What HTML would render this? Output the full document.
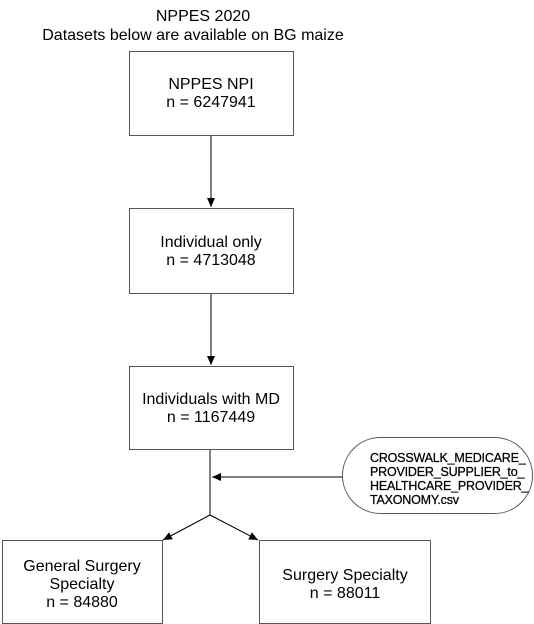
<!DOCTYPE html>
<html><head><meta charset="utf-8"><style>
html,body{margin:0;padding:0;background:#fff;}
svg{display:block;font-family:"Liberation Sans",Arial,sans-serif;}
</style></head><body>
<svg width="534" height="624" viewBox="0 0 534 624" xmlns="http://www.w3.org/2000/svg">
<defs><marker id="a" markerWidth="10" markerHeight="10" refX="9" refY="5" orient="auto" markerUnits="userSpaceOnUse"><path d="M0,1 L9,5 L0,9 Z" fill="#000"/></marker></defs>
<g font-size="16" text-anchor="middle" fill="#000">
<text x="203" y="21">NPPES 2020</text>
<text x="193" y="40">Datasets below are available on BG maize</text>
</g>
<g fill="#fff" stroke="#555" stroke-width="1">
<rect x="129.5" y="51.5" width="164" height="84"/>
<rect x="129.5" y="208.5" width="164" height="85"/>
<rect x="129.5" y="366.5" width="164" height="83"/>
<rect x="2.5" y="540.5" width="160" height="83"/>
<rect x="259.5" y="540.5" width="171" height="83"/>
<rect x="342.5" y="437.5" width="190" height="76" rx="38" ry="38"/>
</g>
<g stroke="#000" stroke-width="1" fill="none">
<line x1="211" y1="136" x2="211" y2="207" marker-end="url(#a)"/>
<line x1="211" y1="294" x2="211" y2="365" marker-end="url(#a)"/>
<line x1="210" y1="450" x2="210" y2="515"/>
<line x1="342" y1="477" x2="212" y2="477" marker-end="url(#a)"/>
<line x1="210" y1="515" x2="163" y2="540" marker-end="url(#a)"/>
<line x1="210" y1="515" x2="258" y2="540" marker-end="url(#a)"/>
</g>
<g font-size="16" text-anchor="middle" fill="#000">
<text x="211" y="89">NPPES NPI</text>
<text x="211" y="107">n = 6247941</text>
<text x="211" y="247">Individual only</text>
<text x="211" y="265">n = 4713048</text>
<text x="211" y="404">Individuals with MD</text>
<text x="211" y="422">n = 1167449</text>
<text x="82" y="571">General Surgery</text>
<text x="82" y="589">Specialty</text>
<text x="82" y="607">n = 84880</text>
<text x="345" y="580">Surgery Specialty</text>
<text x="345" y="598">n = 88011</text>
</g>
<g font-size="12.5" fill="#000" stroke="#000" stroke-width="0.25" letter-spacing="-0.2">
<text x="370" y="462">CROSSWALK_MEDICARE_</text>
<text x="370" y="476">PROVIDER_SUPPLIER_to_</text>
<text x="370" y="490">HEALTHCARE_PROVIDER_</text>
<text x="370" y="504">TAXONOMY.csv</text>
</g>
</svg>
</body></html>
